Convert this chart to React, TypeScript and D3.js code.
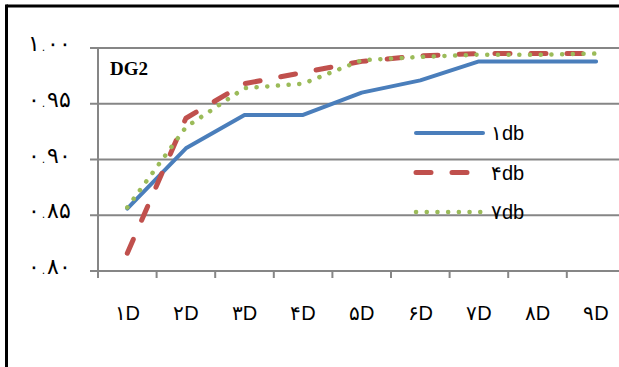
import React from "react";
import * as d3 from "d3";

const categories = ["۱D", "۲D", "۳D", "۴D", "۵D", "۶D", "۷D", "۸D", "۹D"];
const yTicks = [0.8, 0.85, 0.9, 0.95, 1.0];
const yTickLabels = ["۰.۸۰", "۰.۸۵", "۰.۹۰", "۰.۹۵", "۱.۰۰"];
const series1db = [0.856, 0.91, 0.94, 0.94, 0.96, 0.971, 0.988, 0.988, 0.988];
const series4db = [0.816, 0.937, 0.968, 0.978, 0.988, 0.993, 0.995, 0.995, 0.995];
const series7db = [0.857, 0.929, 0.964, 0.968, 0.989, 0.992, 0.994, 0.994, 0.995];
const seriesNames = ["۱db", "۴db", "۷db"];
const chartTitle = "DG2";

const W = 619;
const H = 367;
const plotLeft = 98;
const plotTop = 48;
const plotBottom = 271;
const catWidth = 58.6;

const seriesStyles = [
  { color: "#4a7ebb", width: 4, dash: undefined as string | undefined, cap: "round" },
  { color: "#c0504d", width: 5, dash: "15,21", cap: "round" },
  { color: "#9bbb59", width: 4.5, dash: "0.1,10.6", cap: "round" },
];

const digitFont = "'DejaVu Sans', sans-serif";
const latinFont = "'Liberation Sans', Arial, sans-serif";

// split a label into its Persian digit part and its Latin suffix
function splitLabel(s: string) {
  const m = s.match(/^([\u06F0-\u06F9]+)(.*)$/);
  return m ? [m[1], m[2]] : ["", s];
}

export default function App() {
  const x = d3
    .scaleBand<string>()
    .domain(categories)
    .range([plotLeft, plotLeft + catWidth * categories.length])
    .padding(0);
  const y = d3.scaleLinear().domain([0.8, 1.0]).range([plotBottom, plotTop]);

  const line = d3
    .line<number>()
    .x((_, i) => (x(categories[i]) as number) + x.bandwidth() / 2)
    .y((d) => y(d));

  const allSeries = [series1db, series4db, series7db];
  const gridColor = "#868686";
  const plotRight = W;

  return (
    <svg
      width={W}
      height={H}
      style={{ position: "absolute", left: 0, top: 0, background: "#fff" }}
    >
      <rect x={0} y={0} width={W} height={H} fill="#fff" />
      {/* outer frame (top and left edges) */}
      <line x1={6.5} y1={6} x2={W} y2={6} stroke="#000" strokeWidth={3} />
      <line x1={6.5} y1={4.5} x2={6.5} y2={H} stroke="#000" strokeWidth={3} />

      {/* horizontal gridlines with tick stubs */}
      {yTicks.map((t, i) => (
        <g key={t}>
          <line
            x1={90}
            x2={plotRight}
            y1={y(t)}
            y2={y(t)}
            stroke={gridColor}
            strokeWidth={2}
          />
          <text
            x={71}
            y={y(t) + 3}
            textAnchor="end"
            fontFamily={digitFont}
            fontWeight={200}
            fontSize={22}
            letterSpacing={3}
            fill="#000"
            direction="ltr"
          >
            {yTickLabels[i]}
          </text>
        </g>
      ))}

      {/* vertical axis */}
      <line
        x1={plotLeft}
        x2={plotLeft}
        y1={plotTop - 1}
        y2={plotBottom + 7}
        stroke={gridColor}
        strokeWidth={2}
      />

      {/* category ticks and labels */}
      {categories.map((c, i) => {
        const left = x(c) as number;
        const [dg, rest] = splitLabel(c);
        return (
          <g key={c}>
            {i > 0 && (
              <line
                x1={left}
                x2={left}
                y1={plotBottom}
                y2={plotBottom + 7}
                stroke={gridColor}
                strokeWidth={2}
              />
            )}
            <text
              x={left + x.bandwidth() / 2}
              y={320}
              textAnchor="middle"
              fontFamily={latinFont}
              fontSize={20}
              fill="#000"
              direction="ltr"
            >
              <tspan fontFamily={digitFont} fontWeight={200}>
                {dg}
              </tspan>
              <tspan>{rest}</tspan>
            </text>
          </g>
        );
      })}

      {/* title inside plot */}
      <text
        x={110}
        y={75}
        fontFamily="'Liberation Serif', 'Times New Roman', serif"
        fontWeight="bold"
        fontSize={19}
        fill="#000"
      >
        {chartTitle}
      </text>

      {/* series lines */}
      {allSeries.map((s, i) => (
        <path
          key={i}
          d={line(s) as string}
          fill="none"
          stroke={seriesStyles[i].color}
          strokeWidth={seriesStyles[i].width}
          strokeDasharray={seriesStyles[i].dash}
          strokeLinecap={seriesStyles[i].cap as any}
          strokeLinejoin="round"
        />
      ))}

      {/* legend */}
      {seriesNames.map((n, i) => {
        const ly = 133 + i * 39.5;
        const st = seriesStyles[i];
        const [dg, rest] = splitLabel(n);
        return (
          <g key={n}>
            <line
              x1={416}
              x2={483}
              y1={ly}
              y2={ly}
              stroke={st.color}
              strokeWidth={st.width}
              strokeDasharray={st.dash}
              strokeLinecap={st.cap as any}
            />
            <text
              x={491}
              y={ly + 7}
              fontFamily={latinFont}
              fontSize={20}
              fill="#000"
              direction="ltr"
            >
              <tspan fontFamily={digitFont} fontWeight={200}>
                {dg}
              </tspan>
              <tspan>{rest}</tspan>
            </text>
          </g>
        );
      })}
    </svg>
  );
}
